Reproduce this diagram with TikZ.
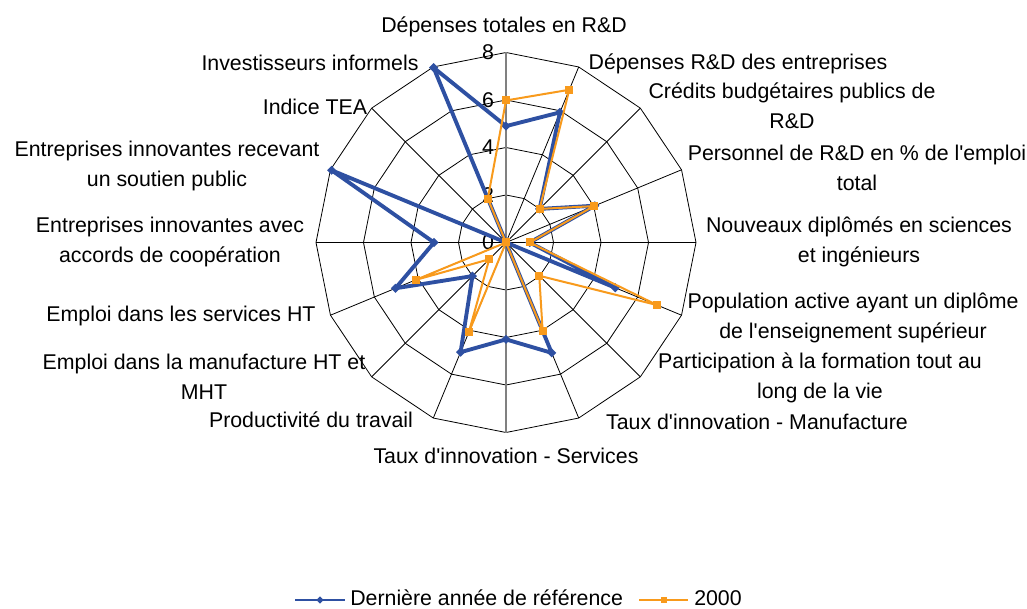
\documentclass[tikz,border=0pt]{standalone}
\usepackage{fontspec}
\newfontfamily\lbfont{Liberation Sans}
\usetikzlibrary{shapes.geometric}
\definecolor{serblue}{RGB}{46,80,162}
\definecolor{serorange}{RGB}{248,154,28}
\begin{document}
\begin{tikzpicture}[x=0.75pt,y=-0.75pt,
  lbl/.style={font=\lbfont\fontsize{16}{22.5}\selectfont, align=center, inner sep=0pt, anchor=center},
  gridline/.style={black, line width=0.6pt},
  axisline/.style={gray, line width=0.9pt},
  blueser/.style={serblue, line width=2.9pt, line join=round},
  orangeser/.style={serorange, line width=1.5pt, line join=round},
  bluemark/.style={diamond, fill=serblue, inner sep=0pt, minimum width=7pt, minimum height=7pt},
  orangemark/.style={rectangle, fill=serorange, inner sep=0pt, minimum size=6pt},
  blueleg/.style={serblue, line width=2pt},
  orangeleg/.style={serorange, line width=1.2pt},
]
\useasboundingbox (0,0) rectangle (1027,609);
\fill[white] (0,0) rectangle (1027,609);
\coordinate (O) at (506,242.5);
% grid rings
\foreach \r in {47.5,95,142.5,190} {
  \draw[gridline] (506,{242.5-\r}) \foreach \k in {1,...,15} { -- ({506+\r*sin(22.5*\k)},{242.5-\r*cos(22.5*\k)}) } -- cycle;
}
% spokes
\foreach \k in {0,...,15} {
  \coordinate (s\k) at ({506+190*sin(22.5*\k)},{242.5-190*cos(22.5*\k)});
  \draw[gridline] (O) -- (s\k);
}
\draw[axisline] (s0) -- (s8);
% tick labels
\foreach \v/\y in {0/242.5,2/195,4/147.5,6/100,8/52.5} {
  \node[lbl] (t\v) at (488,\y) {\v};
}
% data
\foreach \k/\v in {0/4.9,1/5.93,2/2.0,3/4.05,4/1.0,5/4.98,6/0,7/5.03,8/4.08,9/5.0,10/2.0,11/5.04,12/3.03,13/7.95,14/0,15/7.97} {
  \coordinate (b\k) at ({506+23.75*\v*sin(22.5*\k)},{242.5-23.75*\v*cos(22.5*\k)});
}
\foreach \k/\v in {0/5.98,1/6.96,2/2.0,3/4.0,4/1.0,5/6.89,6/1.98,7/4.03,8/0,9/4.1,10/1.0,11/4.12,12/0,13/0,14/0,15/2.0} {
  \coordinate (o\k) at ({506+23.75*\v*sin(22.5*\k)},{242.5-23.75*\v*cos(22.5*\k)});
}
\draw[blueser] (b0) \foreach \k in {1,...,15} { -- (b\k) } -- cycle;
\foreach \k in {0,...,15} { \node[bluemark] (bm\k) at (b\k) {}; }
\draw[orangeser] (o0) \foreach \k in {1,...,15} { -- (o\k) } -- cycle;
\foreach \k in {0,...,15} { \node[orangemark] (om\k) at (o\k) {}; }
% axis labels
\node[lbl] (L1) at (504,27) {Dépenses totales en R\&D};
\node[lbl] (L2) at (738,64) {Dépenses R\&D des entreprises};
\node[lbl] (L3) at (792,105.5) {Crédits budgétaires publics de\\R\&D};
\node[lbl] (L4) at (857,167.5) {Personnel de R\&D en \% de l'emploi\\total};
\node[lbl] (L5) at (859,241.5) {Nouveaux diplômés en sciences\\et ingénieurs};
\node[lbl] (L6) at (853,317.5) {Population active ayant un diplôme\\de l'enseignement supérieur};
\node[lbl] (L7) at (820,377.5) {Participation à la formation tout au\\long de la vie};
\node[lbl] (L8) at (757,421.5) {Taux d'innovation - Manufacture};
\node[lbl] (L9) at (506,456) {Taux d'innovation - Services};
\node[lbl] (L10) at (311,420) {Productivité du travail};
\node[lbl] (L11) at (204,376.5) {Emploi dans la manufacture HT et\\MHT};
\node[lbl] (L12) at (181,315.5) {Emploi dans les services HT};
\node[lbl] (L13) at (170,241.5) {Entreprises innovantes avec\\accords de coopération};
\node[lbl] (L14) at (167,165.5) {Entreprises innovantes recevant\\un soutien public};
\node[lbl] (L15) at (315,106.5) {Indice TEA};
\node[lbl] (L16) at (310,62.5) {Investisseurs informels};
% legend
\coordinate (lb1) at (295,600);
\coordinate (lb2) at (345,600);
\draw[blueleg] (lb1) -- (lb2);
\node[bluemark, minimum width=5.5pt, minimum height=5.5pt] (lbm) at (320,600) {};
\node[lbl, anchor=base west] (lbt) at (350,605) {Dernière année de référence};
\coordinate (lo1) at (639,600);
\coordinate (lo2) at (688,600);
\draw[orangeleg] (lo1) -- (lo2);
\node[orangemark, minimum size=4.5pt] (lom) at (663.5,600) {};
\node[lbl, anchor=base west] (lot) at (694,605) {2000};
\end{tikzpicture}
\end{document}
